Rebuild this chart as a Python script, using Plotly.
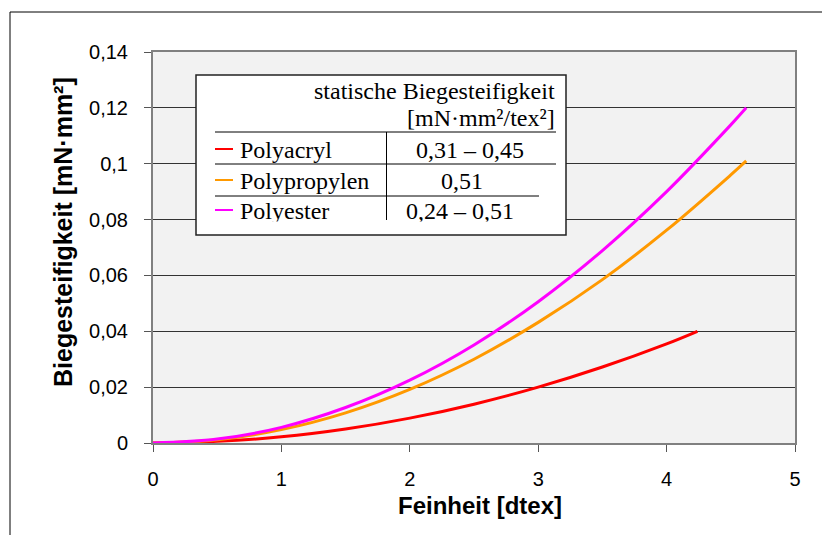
import plotly.graph_objects as go

# ---- data ----
acryl_x = [0, 0.5, 1, 1.5, 2, 2.5, 3, 3.5, 4, 4.24]
acryl_y = [0, 0.0006, 0.0022, 0.005, 0.0089, 0.0139, 0.0200, 0.0272, 0.0355, 0.0400]
propyl_x = [0, 0.5, 1, 1.5, 2, 2.5, 3, 3.5, 4, 4.5, 4.62]
propyl_y = [0, 0.0012, 0.0048, 0.0108, 0.0192, 0.0300, 0.0432, 0.0585, 0.0762, 0.0960, 0.1010]
ester_x = [0, 0.5, 1, 1.5, 2, 2.5, 3, 3.5, 4, 4.5, 4.62]
ester_y = [0, 0.0014, 0.0056, 0.0127, 0.0225, 0.0351, 0.0506, 0.0689, 0.0900, 0.1139, 0.1200]

series_names = ["Polyacryl", "Polypropylen", "Polyester"]
series_values = ["0,31 – 0,45", "0,51", "0,24 – 0,51"]
colors = ["#ff0000", "#ff9900", "#ff00ff"]

y_tickvals = [0, 0.02, 0.04, 0.06, 0.08, 0.1, 0.12, 0.14]
y_ticktext = ["0", "0,02", "0,04", "0,06", "0,08", "0,1", "0,12", "0,14"]
x_tickvals = [0, 1, 2, 3, 4, 5]

# the page body adds an 8px offset; figure is sized/positioned to compensate
OFF = 8
W, H = 830 - OFF, 535 - OFF
L, T = 153 - OFF, 52 - OFF
PW, PH = 795 - 153, 443 - 52
R = W - L - PW
B = H - T - PH


def px(x):
    return (x - OFF - L) / PW


def py(y):
    return (T + PH - (y - OFF)) / PH


fig = go.Figure()
for xs, ys, name, c in zip([acryl_x, propyl_x, ester_x], [acryl_y, propyl_y, ester_y], series_names, colors):
    fig.add_trace(go.Scatter(x=xs, y=ys, mode="lines", name=name,
                             line=dict(color=c, width=3, shape="spline")))

shapes = []
# outer frame
shapes.append(dict(type="rect", xref="paper", yref="paper", x0=px(10), x1=px(828), y0=py(12), y1=py(545),
                   line=dict(color="black", width=1), fillcolor="rgba(0,0,0,0)", layer="below"))
# legend table box
shapes.append(dict(type="rect", xref="paper", yref="paper", x0=px(196), x1=px(566), y0=py(75), y1=py(235),
                   line=dict(color="#222222", width=1.5), fillcolor="white", layer="above"))
lines = [
    (215, 132, 556, 132),
    (215, 164, 556, 164),
    (215, 196, 539, 196),
    (386.5, 132, 386.5, 220),
]
for x0, y0, x1, y1 in lines:
    shapes.append(dict(type="line", xref="paper", yref="paper", x0=px(x0), x1=px(x1), y0=py(y0), y1=py(y1),
                       line=dict(color="black", width=1), layer="above"))
row_y = [150, 181, 211]
for c, ry in zip(colors, row_y):
    shapes.append(dict(type="line", xref="paper", yref="paper", x0=px(215), x1=px(233), y0=py(ry - 1), y1=py(ry - 1),
                       line=dict(color=c, width=2), layer="above"))

serif = "Liberation Serif, Times New Roman, serif"
sans = "Liberation Sans, Arial, sans-serif"
ann = []
ann.append(dict(text="statische Biegesteifigkeit", x=px(557), y=py(91), xanchor="right", yanchor="middle",
                font=dict(family=serif, size=24, color="black")))
ann.append(dict(text="[mN·mm²/tex²]", x=px(557), y=py(118), xanchor="right", yanchor="middle",
                font=dict(family=serif, size=24, color="black")))
val_x = [470, 462, 460]
for name, val, ry, vx in zip(series_names, series_values, row_y, val_x):
    ann.append(dict(text=name, x=px(238), y=py(ry), xanchor="left", yanchor="middle",
                    font=dict(family=serif, size=24, color="black")))
    ann.append(dict(text=val, x=px(vx), y=py(ry), xanchor="center", yanchor="middle",
                    font=dict(family=serif, size=24, color="black")))
# cover to clip the bottom of the last row
ann.append(dict(text=" ", x=px(236), y=py(220.5), xanchor="left", yanchor="top", width=300, height=10,
                bgcolor="white", borderpad=0, showarrow=False, font=dict(size=6)))
# axis titles
ann.append(dict(text="<b>Biegesteifigkeit [mN·mm²]</b>", x=px(63), y=py(232), textangle=-90,
                xanchor="center", yanchor="middle", font=dict(family=sans, size=25, color="black")))
ann.append(dict(text="<b>Feinheit [dtex]</b>", x=px(480), y=py(505), xanchor="center", yanchor="middle",
                font=dict(family=sans, size=24, color="black")))
for a in ann:
    a.setdefault("xref", "paper")
    a.setdefault("yref", "paper")
    a.setdefault("showarrow", False)

fig.update_layout(
    width=W, height=H,
    margin=dict(l=L, r=R, t=T, b=B),
    paper_bgcolor="white", plot_bgcolor="#f2f2f2",
    showlegend=False,
    shapes=shapes, annotations=ann,
    xaxis=dict(range=[0, 5], tickvals=x_tickvals, ticktext=[str(v) for v in x_tickvals],
               showgrid=False, zeroline=False, showline=True, linecolor="#808080", linewidth=2, mirror=True,
               ticks="outside", ticklen=7, tickcolor="#555555", tickwidth=1, ticklabelstandoff=10,
               tickfont=dict(family=sans, size=20, color="black")),
    yaxis=dict(range=[0, 0.14], tickvals=y_tickvals, ticktext=y_ticktext,
               showgrid=True, gridcolor="#333333", gridwidth=1, zeroline=False,
               showline=True, linecolor="#808080", linewidth=2, mirror=True,
               ticks="outside", ticklen=7, tickcolor="#555555", tickwidth=1, ticklabelstandoff=12,
               tickfont=dict(family=sans, size=20, color="black")),
)

fig.write_html("out.html")
